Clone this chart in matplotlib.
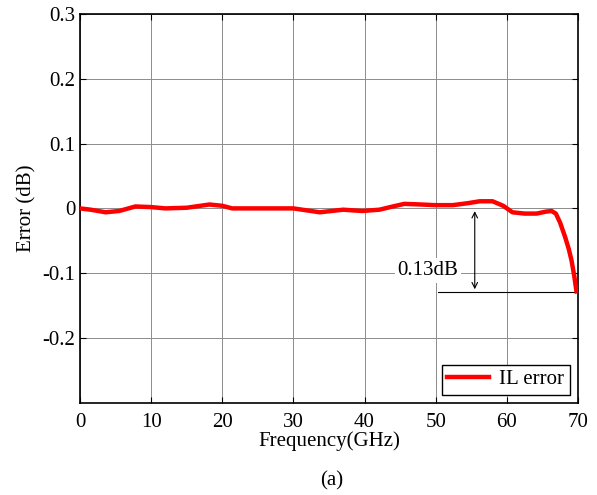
import numpy as np
import matplotlib.pyplot as plt

plt.rcParams['font.family'] = ['Liberation Serif', 'DejaVu Serif']

# IL error curve
freq = [0, 1.5, 3.6, 5.5, 7.8, 10, 12, 15, 18.2, 20, 21.4, 25, 30, 33.7, 37, 39.7,
        42.1, 44, 45.6, 48, 49.9, 52.4, 54.5, 56.2, 58, 59.5, 60.8, 62.5, 64.2,
        65.5, 66.3, 66.9, 67.5, 68.2, 68.7, 69.1, 69.5, 69.8]
err = [0, -0.002, -0.006, -0.004, 0.003, 0.002, 0, 0.001, 0.006, 0.004, 0, 0, 0,
       -0.006, -0.002, -0.004, -0.002, 0.003, 0.007, 0.006, 0.005, 0.005, 0.008,
       0.011, 0.011, 0.004, -0.006, -0.008, -0.008, -0.005, -0.004, -0.008,
       -0.022, -0.044, -0.062, -0.08, -0.105, -0.128]

x_ticks = [0, 10, 20, 30, 40, 50, 60, 70]
y_ticks = [-0.2, -0.1, 0, 0.1, 0.2, 0.3]
y_labels = ['-0.2', '-0.1', '0', '0.1', '0.2', '0.3']

fig = plt.figure(figsize=(5.97, 4.95), dpi=100)
ax = fig.add_axes([0.134, 0.186, 0.834, 0.786])

ax.plot(freq, err, color='#ff0000', lw=3.2, label='IL error', zorder=3,
        solid_joinstyle='round')

# 0.13dB annotation
ax.plot([50.4, 70], [-0.129, -0.129], color='black', lw=0.8)
ax.annotate('', xy=(55.5, -0.129), xytext=(55.5, 0.0),
            arrowprops=dict(arrowstyle='<->', color='black', lw=0.8))
ax.text(48.9, -0.096, '0.13dB', fontsize=15, ha='center', va='center',
        bbox=dict(facecolor='white', edgecolor='none', pad=2))

ax.set_xlim(0, 70)
ax.set_ylim(-0.3, 0.3)
ax.set_xticks(x_ticks)
ax.set_yticks(y_ticks)
ax.set_yticklabels(y_labels)
ax.grid(True, color='#8c8c8c', lw=0.7)
ax.set_axisbelow(True)
ax.tick_params(direction='in', labelsize=15, length=4, top=True, right=True)
ax.tick_params(axis='x', pad=7)
for s in ax.spines.values():
    s.set_linewidth(1.2)

ax.set_xlabel('Frequency(GHz)', fontsize=15, labelpad=0)
ax.set_ylabel('Error (dB)', fontsize=15)

leg = ax.legend(loc='lower right', fontsize=15, fancybox=False, edgecolor='black',
                framealpha=1, handlelength=2.0, borderaxespad=0.4,
                borderpad=0.25, handletextpad=0.5)
leg.get_frame().set_linewidth(1.0)

fig.text(0.555, 0.02, '(a)', fontsize=15, ha='center')

fig.savefig('out.png', dpi=100)
